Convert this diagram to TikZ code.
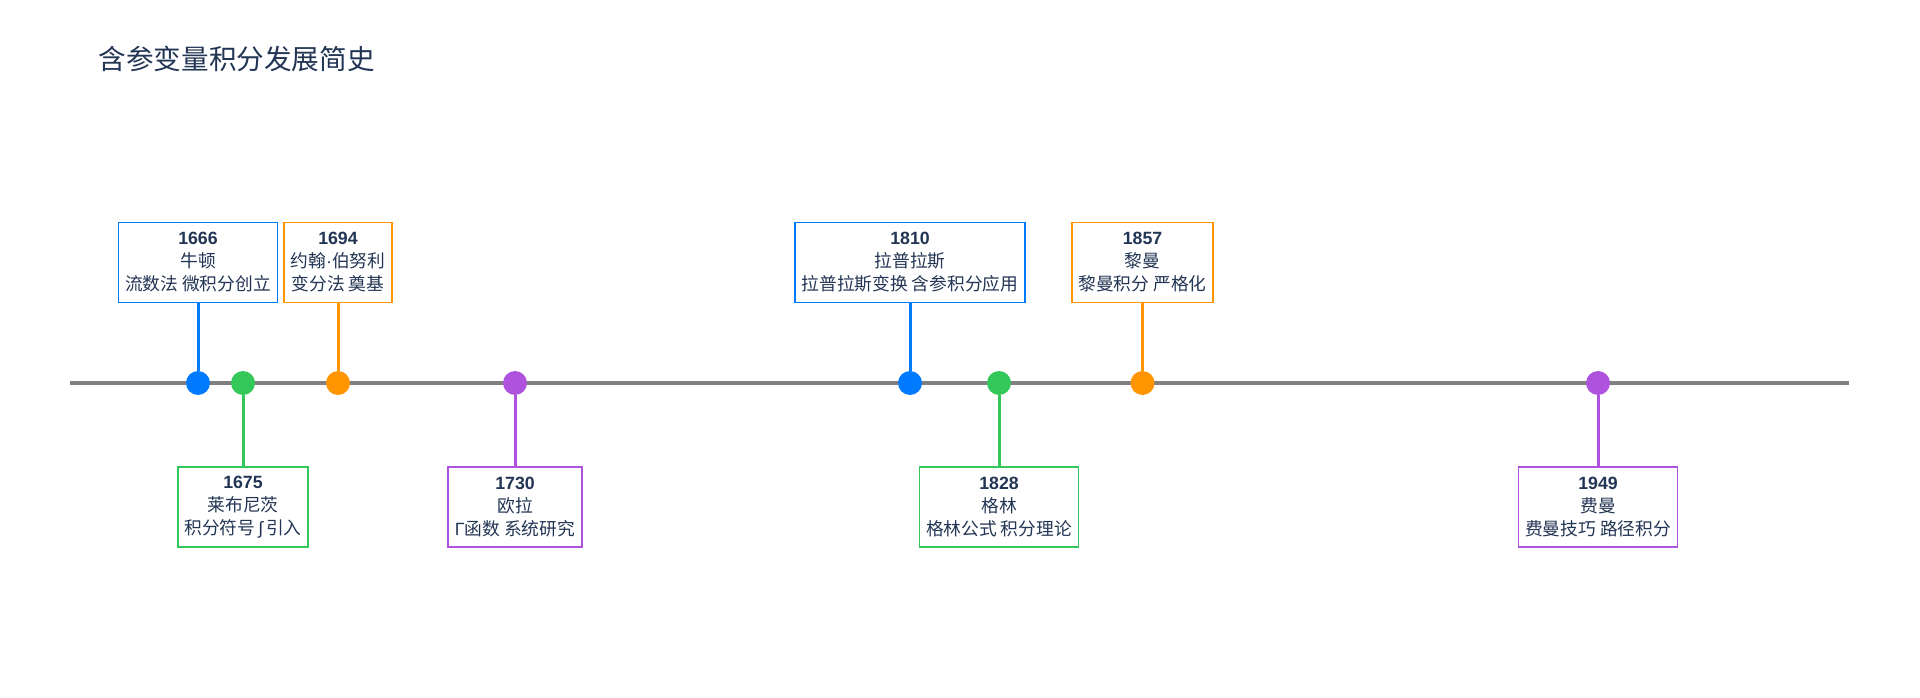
\documentclass[tikz,border=0pt]{standalone}
\usepackage{fontspec}
\setmainfont{Liberation Sans}
\newfontfamily\cjk{Noto Sans CJK SC}
\usetikzlibrary{positioning}
\definecolor{evblue}{HTML}{007AFF}
\definecolor{evgreen}{HTML}{34C759}
\definecolor{evorange}{HTML}{FF9500}
\definecolor{evpurple}{HTML}{AF52DE}
\definecolor{axisgray}{HTML}{808080}
\definecolor{inkblue}{HTML}{233554}

\begin{document}
\begin{tikzpicture}[
    x=0.75pt, y=-0.75pt,
    font=\fontsize{13.3}{17.25}\selectfont,
    evbox/.style={draw=#1, line width=1.25pt, fill=white, align=center,
                  text=inkblue, minimum height=60pt, inner xsep=5pt, inner ysep=0pt},
    stem/.style={draw=#1, line width=2.25pt},
    evdot/.style={circle, fill=#1, minimum size=18pt, inner sep=0pt},
  ]
  \useasboundingbox (0,0) rectangle (1920,698);
  % title
  \node[anchor=west, text=inkblue, font=\cjk\fontsize{20.7}{20.7}\selectfont]
    (title) at (94,59) {含参变量积分发展简史};
  % axis (y in px, measured downwards)
  \coordinate (axisL) at (70,383);
  \coordinate (axisR) at (1849,383);
  \draw[axisgray, line width=3pt] (axisL) -- (axisR);
  % events: x / year / who / what / colour / box centre y
  \foreach \x/\yr/\who/\what/\col/\by in {
      198/1666/牛顿/流数法 微积分创立/evblue/262.5,
      243/1675/莱布尼茨/积分符号{\rmfamily\,∫\,}引入/evgreen/507,
      338/1694/约翰{\rmfamily·}伯努利/变分法 奠基/evorange/262.5,
      515/1730/欧拉/{\rmfamily Γ}函数 系统研究/evpurple/507,
      910/1810/拉普拉斯/拉普拉斯变换 含参积分应用/evblue/262.5,
      999/1828/格林/格林公式 积分理论/evgreen/507,
      1142.5/1857/黎曼/黎曼积分 严格化/evorange/262.5,
      1598/1949/费曼/费曼技巧 路径积分/evpurple/507} {
    \node[evdot=\col] (dot\yr) at (\x,383) {};
    \node[evbox=\col] (box\yr) at (\x,\by)
      {\textbf{\yr}\\\cjk\who\\\cjk\what};
    \draw[stem=\col] (box\yr) -- (dot\yr);
  }
\end{tikzpicture}
\end{document}
